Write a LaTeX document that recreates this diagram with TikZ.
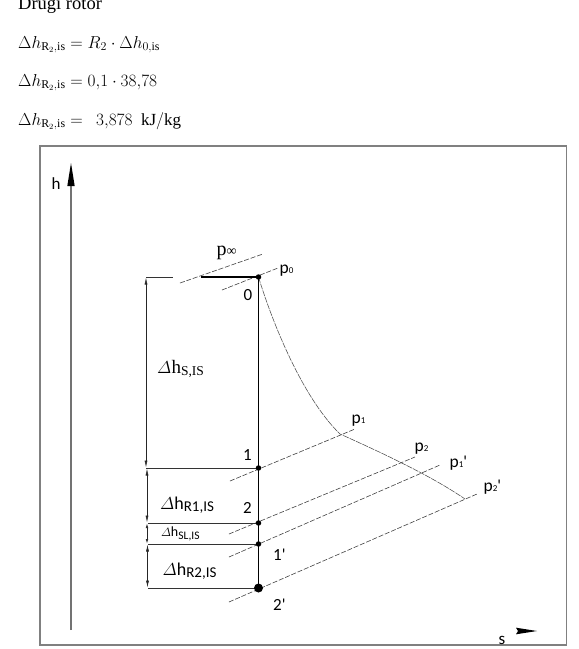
\documentclass[tikz,border=0pt]{standalone}
\usepackage{amsmath}
\usepackage{fontspec}
\setmainfont{Liberation Serif}
\newfontfamily\carl{Carlito}
\usetikzlibrary{arrows.meta}
\begin{document}
\begin{tikzpicture}[x=1pt,y=-1pt,
  txt/.style={inner sep=0pt, anchor=base west},
  lbl/.style={inner sep=0pt, anchor=base west, font=\carl\fontsize{17}{17}\selectfont},
  plbl/.style={inner sep=0pt, anchor=base west, font=\carl\fontsize{17.5}{17}\selectfont},
  isobar/.style={draw=black!75, line width=0.6pt, dash pattern=on 5pt off 1.8pt},
  expcurve/.style={draw=black!70, line width=0.55pt, dash pattern=on 6pt off 1pt},
  dimline/.style={draw=black!80, line width=0.7pt},
  dimarrow/.style={draw=black!85, line width=0.6pt, {Latex[length=7pt,width=3pt]}-{Latex[length=7pt,width=3pt]}},
  smallarrow/.style={draw=black!85, line width=0.6pt, {Latex[length=4.5pt,width=2.6pt]}-{Latex[length=4.5pt,width=2.6pt]}},
  dot/.style={circle, fill=black, inner sep=0pt, minimum size=5.5pt},
  bigdot/.style={circle, fill=black, inner sep=0pt, minimum size=9pt},
  frame/.style={draw=black!50, line width=1.5pt}
]
\useasboundingbox (0,0) rectangle (579,649);

% ---- text above the figure ----
\node[txt] (title) at (18,9.5) {\fontsize{18.5}{20}\selectfont Drugi rotor};
\node[txt] (eq1) at (18,48) {\fontsize{17}{20}\selectfont $\Delta h_{\mathrm{R}_2{,}\mathrm{is}} = R_2\cdot\Delta h_{0{,}\mathrm{is}}$};
\node[txt] (eq2) at (18,86) {\fontsize{17}{20}\selectfont $\Delta h_{\mathrm{R}_2{,}\mathrm{is}} = 0{,}1\cdot 38{,}78$};
\node[txt] (eq3) at (18,125) {\fontsize{17}{20}\selectfont $\Delta h_{\mathrm{R}_2{,}\mathrm{is}} = \ \ 3{,}878\ \ \mathrm{kJ/kg}$};

% ---- frame ----
\coordinate (FA) at (40,146);
\coordinate (FB) at (566.5,645);
\draw[frame] (FA) rectangle (FB);

% ---- axes ----
\coordinate (hbot) at (71,630);
\coordinate (htop) at (71,185);
\draw[draw=black!55, line width=2pt] (hbot) -- (htop);
\fill[black] (67.3,186) -- (71,163) -- (74.7,186) -- cycle;
\node[lbl] (hl) at (51.5,189) {h};
\fill[black] (516,627.7) -- (537,631) -- (516,634.3) -- (518,631) -- cycle;
\node[lbl] (sl) at (498.5,644) {s};

% ---- state points ----
\coordinate (P0) at (258.5,277);
\coordinate (P1) at (258.5,468);
\coordinate (P2) at (258.5,523);
\coordinate (P1p) at (258.5,544);
\coordinate (P2p) at (258.5,588);

% ---- isobars ----
\coordinate (pinfA) at (180,283); \coordinate (pinfB) at (263,254);
\coordinate (p0A) at (222,290);   \coordinate (p0B) at (278,268);
\coordinate (p1A) at (230,481);   \coordinate (p1B) at (355,429);
\coordinate (p2A) at (229,534);   \coordinate (p2B) at (415,457);
\coordinate (p1pA) at (229,557);  \coordinate (p1pB) at (440,465);
\coordinate (p2pA) at (229,602);  \coordinate (p2pB) at (477,494);
\draw[isobar] (pinfA) -- (pinfB);
\draw[isobar] (p0A) -- (p0B);
\draw[isobar] (p1A) -- (p1B);
\draw[isobar] (p2A) -- (p2B);
\draw[isobar] (p1pA) -- (p1pB);
\draw[isobar] (p2pA) -- (p2pB);

% ---- expansion curve ----
\coordinate (X1) at (340,434);
\coordinate (X2) at (465,499);
\draw[expcurve] (P0) .. controls (270,315) and (300,395) .. (X1)
                     .. controls (380,452) and (430,475) .. (X2);

% ---- dimension lines ----
\coordinate (h0L) at (146,277);  \coordinate (h0R) at (173,277);
\coordinate (h0T) at (201,277);
\coordinate (h1L) at (146,468);
\coordinate (h2L) at (148,523);
\coordinate (h1pL) at (148,544);
\coordinate (h2pL) at (148,588);
\draw[dimline] (h0L) -- (h0R);
\draw[dimline] (h1L) -- (P1);
\draw[dimline] (h2L) -- (P2);
\draw[dimline] (h1pL) -- (P1p);
\draw[dimline] (h2pL) -- (P2p);

\coordinate (aS1) at (146,277.5); \coordinate (aS2) at (146,467.5);
\coordinate (aR1a) at (147,468.5); \coordinate (aR1b) at (147,522.5);
\coordinate (aSLa) at (147,523.5); \coordinate (aSLb) at (147,543.5);
\coordinate (aR2a) at (147.5,544.5); \coordinate (aR2b) at (147.5,587.5);
\draw[dimarrow] (aS1) -- (aS2);
\draw[dimarrow] (aR1a) -- (aR1b);
\draw[smallarrow] (aSLa) -- (aSLb);
\draw[dimarrow] (aR2a) -- (aR2b);

% ---- process line ----
\draw[black, line width=1.8pt] (h0T) -- (P0);
\draw[black, line width=1.8pt] (P0) -- (P2p);

\node[dot] (n0) at (P0) {};
\node[dot] (n1) at (P1) {};
\node[dot] (n2) at (P2) {};
\node[dot] (n1p) at (P1p) {};
\node[bigdot] (n2p) at (P2p) {};

% ---- point labels ----
\node[lbl] (l0) at (243.5,300) {0};
\node[lbl] (l1) at (243,460.5) {1};
\node[lbl] (l2) at (243,513) {2};
\node[lbl] (l1p) at (273,560) {1'};
\node[lbl] (l2p) at (273,610) {2'};

% ---- pressure labels ----
\node[txt] (lpinf) at (216.5,255) {\fontsize{20}{20}\selectfont p\fontsize{14}{14}\selectfont ∞};
\node[plbl] (lp0) at (279.5,273) {p\fontsize{9}{9}\selectfont 0};
\node[plbl] (lp1) at (351.5,423) {p\fontsize{9}{9}\selectfont 1};
\node[plbl] (lp2) at (414.5,451) {p\fontsize{9}{9}\selectfont 2};
\node[plbl] (lp1p) at (449.5,467) {p\fontsize{9}{9}\selectfont 1\fontsize{17}{17}\selectfont '};
\node[plbl] (lp2p) at (483.5,491) {p\fontsize{9}{9}\selectfont 2\fontsize{17}{17}\selectfont '};

% ---- enthalpy difference labels ----
\node[txt] (dS) at (157,373) {\fontsize{17.5}{17}\selectfont$\varDelta$\kern0.3pt{\fontsize{19}{19}\selectfont h}\raisebox{-2pt}{\fontsize{13.5}{13}\selectfont S,IS}};
\node[txt] (dR1) at (160,509) {\fontsize{16}{15}\selectfont$\varDelta$\carl\fontsize{18}{17}\selectfont h\raisebox{-2.5pt}{\fontsize{15}{14}\selectfont R1,IS}};
\node[txt] (dSL) at (161,536.5) {\fontsize{12.5}{12}\selectfont$\varDelta$\carl\fontsize{14}{13}\selectfont h\raisebox{-3pt}{\fontsize{11.5}{11}\selectfont SL,IS}};
\node[txt] (dR2) at (162.5,575) {\fontsize{16}{15}\selectfont$\varDelta$\carl\fontsize{18}{17}\selectfont h\raisebox{-2.5pt}{\fontsize{15}{14}\selectfont R2,IS}};
\end{tikzpicture}
\end{document}
